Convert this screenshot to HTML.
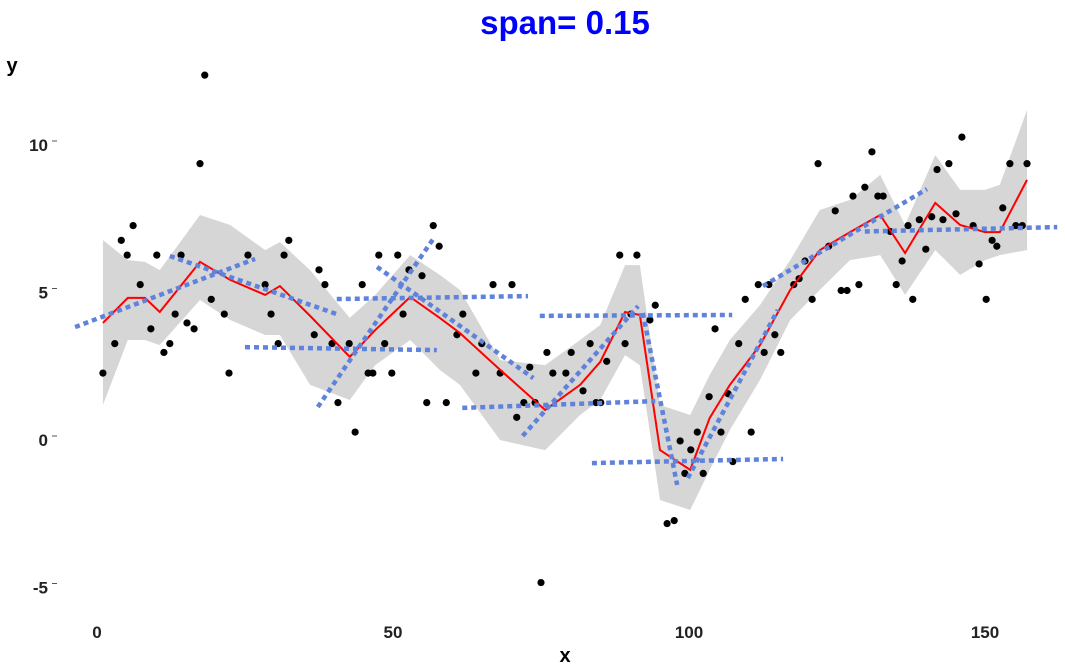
<!DOCTYPE html>
<html><head><meta charset="utf-8"><style>
html,body{margin:0;padding:0;background:#fff;}
svg{display:block;font-family:"Liberation Sans",sans-serif;}
</style></head><body>
<svg id="chart" width="1065" height="668" viewBox="0 0 1065 668">
<text x="565" y="34" text-anchor="middle" font-size="33" font-weight="bold" fill="#0000ff">span= 0.15</text>
<text x="12" y="72" text-anchor="middle" font-size="20" font-weight="bold">y</text>
<text x="565" y="662" text-anchor="middle" font-size="20" font-weight="bold">x</text>
<g id="band"></g>
<g id="points"></g>
<g id="fit"></g>
<g id="local"></g>
<g id="axes"></g>
</svg>
<script>
const ptX=[1,3,4.1,5.1,6.1,7.3,9.1,10.1,11.3,12.3,13.2,14.2,15.2,16.4,17.4,18.2,19.3,21.5,22.3,25.5,28.4,29.4,30.6,31.6,32.4,36.7,37.5,38.5,39.7,40.7,42.6,43.6,44.8,45.8,46.6,47.6,50.8,52.7,54.9,56.8,57.8,51.7,48.6,49.8,55.7,59,60.8,61.8,65,64,66.9,70.1,68.1,70.9,72.1,73.1,74,75,76,77,79.2,80.1,82.1,83.3,84.3,85.1,86.1,88.3,89.2,91.2,90.2,93.4,94.3,96.3,97.5,98.5,99.3,100.3,101.4,102.4,103.4,107.4,110.5,105.4,104.4,106.6,108.4,109.5,111.7,112.7,114.5,115.5,113.5,117.7,118.6,119.6,120.8,121.8,123.6,124.7,125.7,126.7,127.7,128.7,129.7,130.9,131.9,132.8,134,135,136,137,137.8,138.9,140,141,141.9,142.9,143.9,145.1,146.1,148,149,150.2,151.2,152,153,154.2,155.2,156.3,157.1];
const ptY=[2.2,3.2,6.7,6.2,7.2,5.2,3.7,6.2,2.9,3.2,4.2,6.2,3.9,3.7,9.3,12.3,4.7,4.2,2.2,6.2,5.2,4.2,3.2,6.2,6.7,3.5,5.7,5.2,3.2,1.2,3.2,0.2,5.2,2.2,2.2,6.2,6.2,5.7,5.5,7.2,6.5,4.2,3.2,2.2,1.2,1.2,3.5,4.2,3.2,2.2,5.2,5.2,2.2,0.7,1.2,2.4,1.2,-4.9,2.9,2.2,2.2,2.9,1.6,3.2,1.2,1.2,2.6,6.2,3.2,6.2,4.2,4.0,4.5,-2.9,-2.8,-0.1,-1.2,-0.4,0.2,-1.2,1.4,-0.8,0.2,0.2,3.7,1.5,3.2,4.7,5.2,2.9,3.5,2.9,5.2,5.2,5.4,6.0,4.7,9.3,6.5,7.7,5.0,5.0,8.2,5.2,8.5,9.7,8.2,8.2,7.0,5.2,6.0,7.2,4.7,7.4,6.4,7.5,9.1,7.4,9.3,7.6,10.2,7.2,5.9,4.7,6.7,6.5,7.8,9.3,7.2,7.2,9.3];
const fitX=[1,5.2,8.1,10.6,17.4,22.5,28.4,30.9,36,42.7,47,52.9,57.9,61.3,68.1,75.7,81.6,85,89.2,91.7,95.1,100.2,103.5,106.9,112,117.1,122.1,127.2,132.3,136.5,141.6,145.8,150,152.5,157.1];
const fitY=[3.9,4.75,4.75,4.27,5.97,5.36,4.85,5.15,4.14,2.75,3.66,4.78,4.07,3.56,2.31,0.95,1.8,2.58,4.27,4.17,-0.41,-1.08,0.68,1.8,3.15,5.02,6.37,6.98,7.56,6.27,7.97,7.22,6.98,6.98,8.75];
const upY=[6.71,6.03,5.97,5.69,7.56,7.22,6.37,6.64,5.69,4.07,4.85,6.2,5.53,5.02,2.64,2.47,3.32,3.83,5.86,5.86,1.12,0.78,2.14,3.32,4.51,6.03,7.73,8.07,8.92,7.22,9.59,8.41,8.41,8.58,11.12];
const loY=[1.12,3.32,3.32,3.15,4.68,4.0,3.49,3.49,1.8,1.29,2.47,3.32,2.31,1.8,-0.07,-0.41,0.78,1.29,2.81,2.47,-2.1,-2.44,-1.08,0.27,1.97,4.0,5.02,6.03,6.2,4.85,6.37,5.53,6.03,6.2,6.37];
const segX1=[-3.7,12.3,25.0,40.5,37.3,47.3,61.7,71.9,74.8,83.6,92.2,99.8,112.5,129.7];
const segY1=[3.76,6.17,3.08,4.71,1.05,5.8,1.02,0.07,4.14,-0.85,4.24,-1.36,5.15,7.0];
const segX2=[26.7,40.5,57.4,72.8,56.8,73.7,94.3,91.4,107.3,115.9,98.0,115.0,140.2,162.2];
const segY2=[6.07,4.2,2.98,4.81,6.75,2.03,1.25,4.47,4.17,-0.71,-1.59,4.34,8.44,7.15];
const xTicks=[0,50,100,150];
const yTicks=[-5,0,5,10];

const NS="http://www.w3.org/2000/svg";
function sx(v){return 97+v*5.92;}
function sy(v){return 438-v*29.5;}
function mk(t,p,a){const e=document.createElementNS(NS,t);for(const k in a)e.setAttribute(k,a[k]);p.appendChild(e);return e;}

const band=document.getElementById('band');
let d=fitX.map((x,i)=>(i?'L':'M')+sx(x)+','+sy(upY[i])).join('');
for(let i=fitX.length-1;i>=0;i--)d+='L'+sx(fitX[i])+','+sy(loY[i]);
const bp=mk('path',band,{d:d+'Z',fill:'#d6d6d6'});



const pts=document.getElementById('points');
ptX.forEach((x,i)=>{const c=mk('circle',pts,{cx:sx(x),cy:sy(ptY[i]),r:3.6,fill:'#000'});

});

const fit=document.getElementById('fit');
const fl=mk('path',fit,{d:fitX.map((x,i)=>(i?'L':'M')+sx(x)+','+sy(fitY[i])).join(''),fill:'none',stroke:'#ff0000','stroke-width':2});



const loc=document.getElementById('local');
segX1.forEach((x,i)=>{const l=mk('line',loc,{x1:sx(x),y1:sy(segY1[i]),x2:sx(segX2[i]),y2:sy(segY2[i]),stroke:'#5f82db','stroke-width':4.5,'stroke-dasharray':'5,4'});

});

const ax=document.getElementById('axes');
xTicks.forEach(v=>{const t=mk('text',ax,{x:sx(v),y:638,'text-anchor':'middle','font-size':17,'font-weight':'bold',fill:'#222'});t.textContent=v;

});
yTicks.forEach(v=>{const t=mk('text',ax,{x:48,y:sy(v)+8,'text-anchor':'end','font-size':17,'font-weight':'bold',fill:'#222'});t.textContent=v;


const k=mk('line',ax,{x1:52,x2:57,y1:sy(v)-2,y2:sy(v)-2,stroke:'#555','stroke-width':1});

});
</script>
</body></html>
